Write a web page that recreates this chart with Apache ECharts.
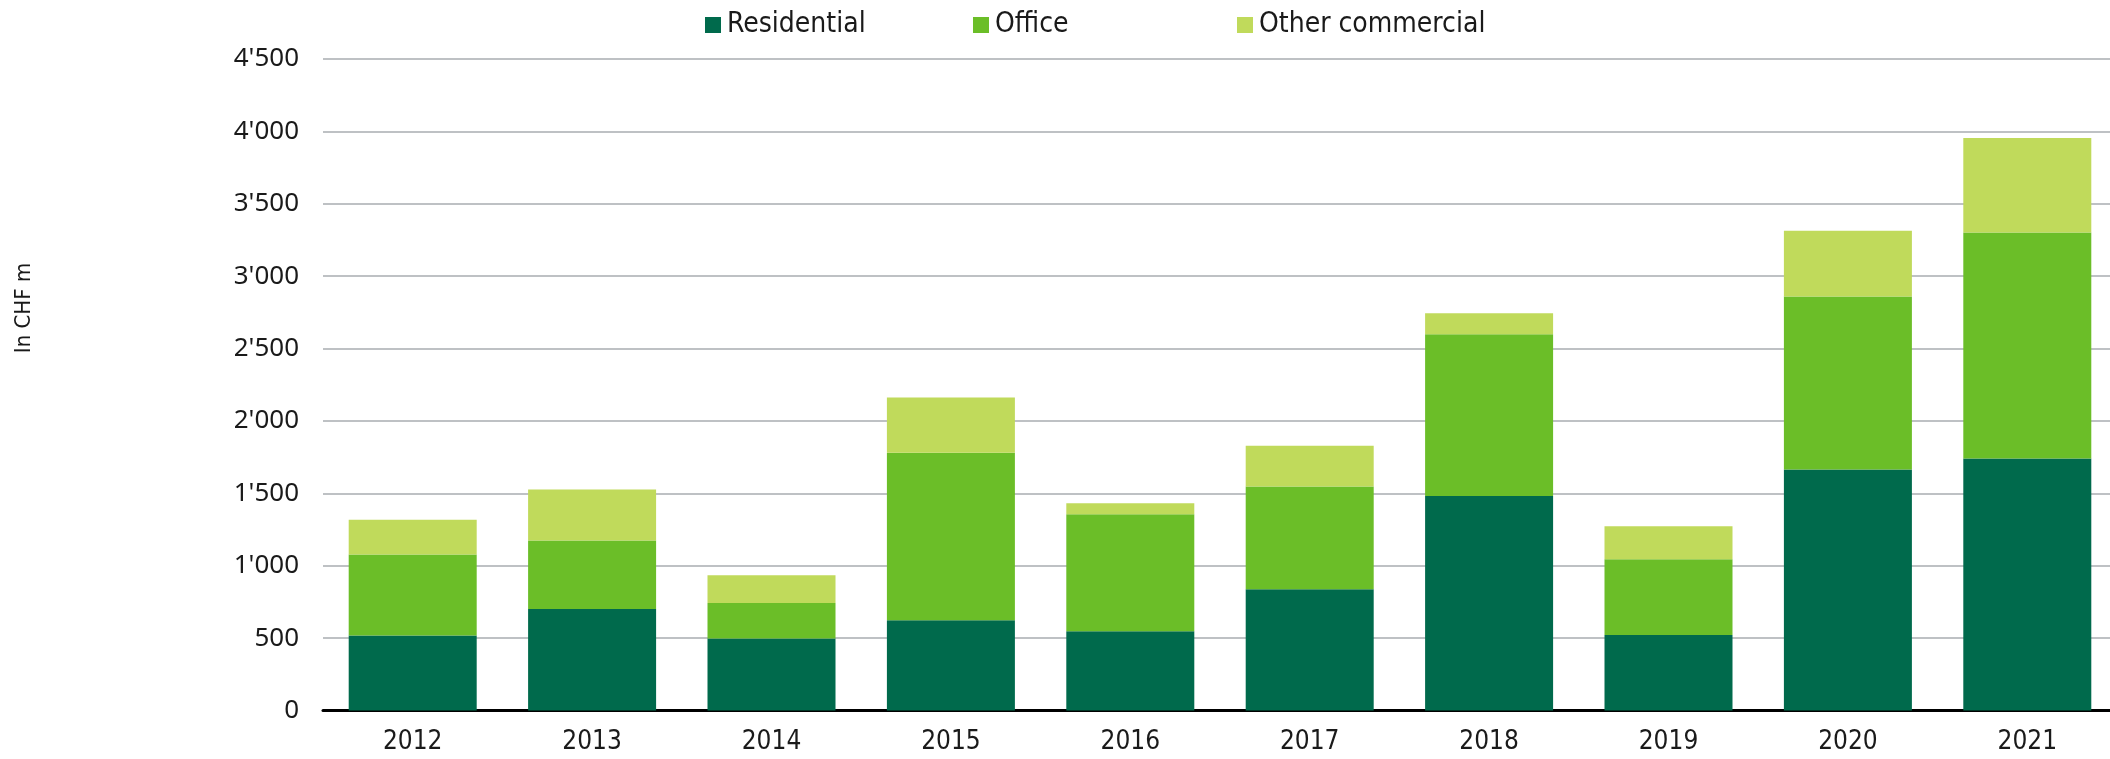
<!DOCTYPE html>
<html lang="en">
<head>
	<meta charset="UTF-8">
	<title>Investment volume</title>
	<script src="https://cdn.jsdelivr.net/npm/echarts@6/dist/echarts.min.js"></script>
	<style>
		html, body { margin: 0; padding: 0; background: #fff; }
		#chart { width: 2110px; height: 759px; }
	</style>
</head>
<body>
<div id="chart"></div>
<script>
	var years = ['2012', '2013', '2014', '2015', '2016', '2017', '2018', '2019', '2020', '2021'];
	var residential = [518, 701, 497, 623, 548, 838, 1482, 521, 1665, 1740];
	var office = [560, 473, 246, 1158, 808, 710, 1117, 524, 1194, 1562];
	var otherCommercial = [239, 353, 191, 381, 75, 281, 144, 227, 455, 653];
	var yTicks = [0, 4500, 500]; // min, max, step

	var condensed = "'DejaVu Sans Condensed', 'Liberation Sans Narrow', 'Roboto Condensed', sans-serif";
	var round = "'Noto Sans', 'DejaVu Sans', sans-serif";

	function fmt(v) {
		return String(v).replace(/\B(?=(\d{3})+(?!\d))/g, "'");
	}

	function legendAt(name, left) {
		return {
			data: [name],
			left: left,
			top: 6,
			itemWidth: 16,
			itemHeight: 16,
			itemGap: 0,
			icon: 'rect',
			textStyle: { fontFamily: condensed, fontSize: 28, color: '#1a1a1a', padding: [0, 0, 0, 1] }
		};
	}

	var chart = echarts.init(document.getElementById('chart'));
	chart.setOption({
		animation: false,
		legend: [
			legendAt('Residential', 700),
			legendAt('Office', 968),
			legendAt('Other commercial', 1232)
		],
		grid: {
			left: 323,
			top: 59,
			width: 1794,
			height: 651.5,
			outerBoundsMode: 'none'
		},
		graphic: [{
			type: 'text',
			x: 24,
			y: 308,
			rotation: Math.PI / 2,
			style: {
				text: 'In CHF m',
				fontFamily: condensed,
				fontSize: 22,
				fill: '#1a1a1a',
				align: 'center',
				verticalAlign: 'middle'
			}
		}],
		xAxis: {
			type: 'category',
			data: years,
			axisLine: { lineStyle: { color: '#000', width: 3 } },
			axisTick: { show: false },
			axisLabel: { fontFamily: condensed, fontSize: 26, color: '#1a1a1a', margin: 19 }
		},
		yAxis: {
			type: 'value',
			min: yTicks[0],
			max: yTicks[1],
			interval: yTicks[2],
			axisLine: { show: false },
			axisTick: { show: false },
			axisLabel: { fontFamily: round, fontSize: 26, color: '#1a1a1a', margin: 24, formatter: fmt },
			splitLine: { lineStyle: { color: '#a9adb0', width: 1.5 } }
		},
		series: [
			{ name: 'Residential', type: 'bar', stack: 'total', barWidth: 128, data: residential, itemStyle: { color: '#006a4c' } },
			{ name: 'Office', type: 'bar', stack: 'total', barWidth: 128, data: office, itemStyle: { color: '#6bbe28' } },
			{ name: 'Other commercial', type: 'bar', stack: 'total', barWidth: 128, data: otherCommercial, itemStyle: { color: '#c0da5b' } }
		]
	});
</script>
</body>
</html>
